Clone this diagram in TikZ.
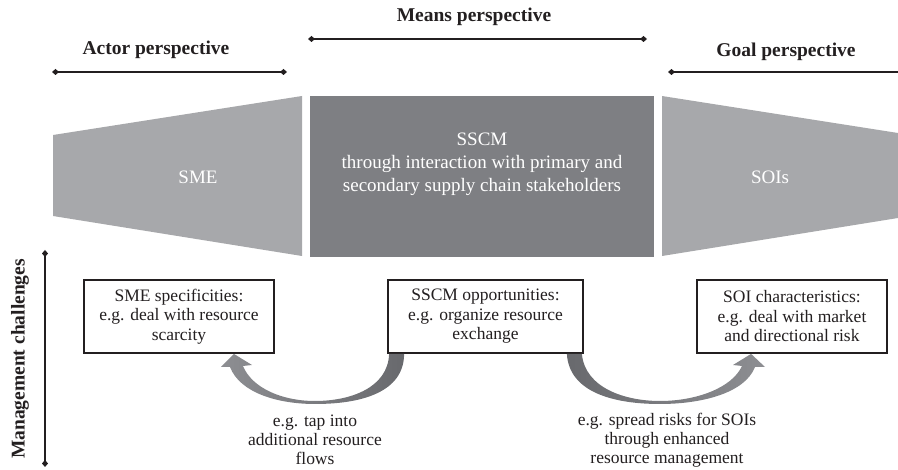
\documentclass[tikz,border=0pt]{standalone}
\usepackage{fontspec}
\setmainfont{Liberation Serif}
\usetikzlibrary{calc,arrows.meta}

\definecolor{trapgray}{HTML}{A7A8AB}
\definecolor{midgray}{HTML}{7E7F83}
\definecolor{arrowdark}{HTML}{68696D}
\definecolor{arrowlight}{HTML}{8D8E92}
\definecolor{ink}{HTML}{231F20}

\begin{document}
\begin{tikzpicture}[x=1pt,y=-1pt,
  heading/.style={font=\fontsize{19.5}{22}\selectfont\bfseries, text=ink, inner sep=0pt},
  spanbar/.style={line width=1.6pt, draw=ink,
    {Diamond[length=7pt,width=6pt]}-{Diamond[length=7pt,width=6pt]}},
  spanbarL/.style={line width=1.6pt, draw=ink, {Diamond[length=7pt,width=6pt]}-},
  shapetext/.style={text=white, align=center, inner sep=0pt},
  challenge/.style={draw=ink, line width=1.8pt, fill=white, align=center,
    font=\fontsize{17.5}{19.5}\selectfont, text=ink, minimum height=73pt,
    minimum width=190pt, inner sep=0pt},
  note/.style={align=center, font=\fontsize{17.5}{19}\selectfont, text=ink, inner sep=0pt}]
\useasboundingbox (0,0) rectangle (898,470);

% perspective headings with their span bars
\node[heading] (actor) at (156,50) {Actor perspective};
\node[heading] (means) at (474,17) {Means perspective};
\node[heading] (goal) at (786,52) {Goal perspective};
\coordinate (actorL) at (52,72);  \coordinate (actorR) at (287,72);
\coordinate (meansL) at (308,39); \coordinate (meansR) at (647,39);
\coordinate (goalL) at (668,72);  \coordinate (goalR) at (899,72);
\draw[spanbar] (actorL) -- (actorR);
\draw[spanbar] (meansL) -- (meansR);
\draw[spanbarL] (goalL) -- (goalR);

% funnel: actor, means, goal
\fill[trapgray] (53,135) -- (302,96) -- (302,256) -- (53,216) -- cycle;
\fill[midgray] (310,96) rectangle (654,257);
\fill[trapgray] (662,96) -- (898,133) -- (898,218) -- (662,256) -- cycle;
\node[shapetext, font=\fontsize{19}{22}\selectfont] (sme) at (198,177) {SME};
\node[shapetext, font=\fontsize{19}{23}\selectfont] (sscm) at (482,164)
  {SSCM\\through interaction with primary and\\secondary supply chain stakeholders};
\node[shapetext, font=\fontsize{19}{22}\selectfont] (sois) at (770,177) {SOIs};

% management challenges axis
\node[heading, rotate=90] (mgmt) at (20,359) {Management challenges};
\coordinate (mgmtT) at (45,250); \coordinate (mgmtB) at (45,467);
\draw[spanbar] (mgmtT) -- (mgmtB);

% challenge boxes
\node[challenge] (smebox) at (179,316.5)
  {SME specificities:\\e.g. deal with resource\\scarcity};
\node[challenge, minimum width=195pt] (sscmbox) at (485.5,316.5)
  {SSCM opportunities:\\e.g. organize resource\\exchange};
\node[challenge] (soibox) at (792,316.5)
  {SOI characteristics:\\e.g. deal with market\\and directional risk};

% tapered curved arrows out of the SSCM box
\path[left color=arrowlight, right color=arrowdark]
  ($(sscmbox.south west)+(2,0)$) .. controls (388,388) and (350,401) .. (315,401)
  .. controls (282,401) and (252,388) .. (243,366)
  -- (252,365) -- ($(smebox.south east)+(-41,0)$) -- (221,367) -- (230,367)
  .. controls (240,393) and (278,404) .. (315,404)
  .. controls (362,404) and (404,392) .. ($(sscmbox.south west)+(17,0)$) -- cycle;
\path[left color=arrowdark, right color=arrowlight]
  ($(sscmbox.south east)+(-2,0)$) .. controls (585,388) and (625,401) .. (660,401)
  .. controls (696,401) and (732,388) .. (742,366)
  -- (733,365) -- ($(soibox.south west)+(55,0)$) -- (765,367) -- (755,367)
  .. controls (745,393) and (702,404) .. (660,404)
  .. controls (613,404) and (569,392) .. ($(sscmbox.south east)+(-17,0)$) -- cycle;

% arrow captions
\node[note] (tap) at (315,440) {e.g. tap into\\additional resource\\flows};
\node[note] (spread) at (667,440) {e.g. spread risks for SOIs\\through enhanced\\resource management};
\end{tikzpicture}
\end{document}
